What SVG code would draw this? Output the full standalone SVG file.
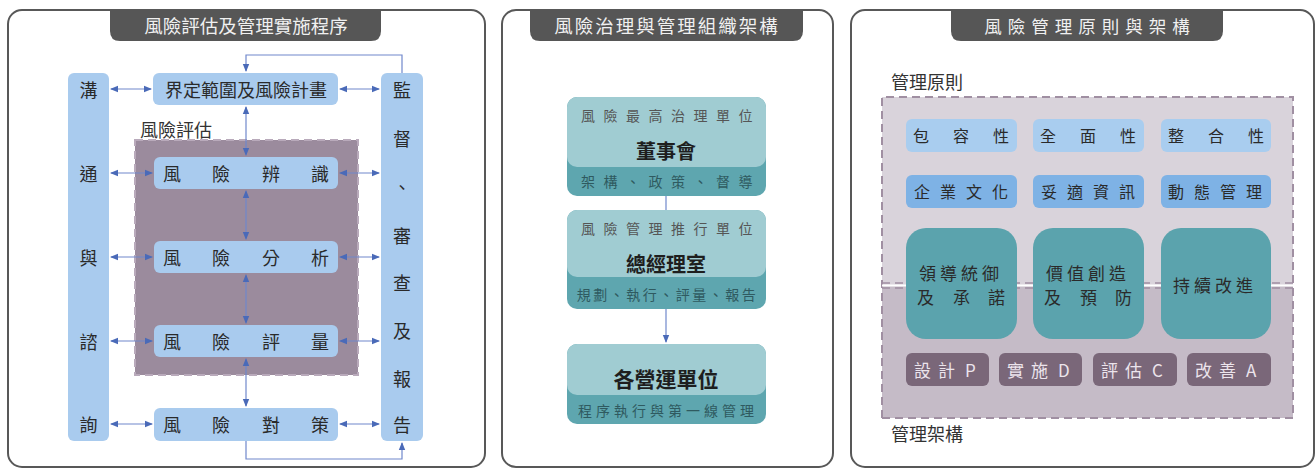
<svg xmlns="http://www.w3.org/2000/svg" width="1316" height="470" viewBox="0 0 1316 470">
<style>
text{font-family:"Noto Sans CJK TC","Noto Sans CJK SC",sans-serif;dominant-baseline:central;}
.frame{fill:#fff;stroke:#585858;stroke-width:2;}
.tab{fill:#565656;}
.title{fill:#f0f0f0;font-size:18.5px;text-anchor:middle;}
.lb{fill:#a9cbee;}
.t1{fill:#2a2a2a;font-size:18px;}
.conn{fill:none;stroke:#7088cc;stroke-width:1.2;}
.tl{fill:#a0ccd2;}
.td{fill:#5ea6af;}
.sub{fill:#555;font-size:14px;}
.subd{fill:#2f5a60;font-size:14px;}
.bold{fill:#1e1e1e;font-size:20px;font-weight:bold;text-anchor:middle;}
.r1{fill:#a9cdef;}
.r2{fill:#7eb2e5;}
.r3{fill:#5ba3ad;}
.r4{fill:#7a6779;}
.t3{fill:#2a2a2a;font-size:16px;}
.t4{fill:#ece4ec;font-size:17px;}
.lab{fill:#333;font-size:18px;}
</style>
<defs>
<marker id="ah" viewBox="0 0 8 8" refX="7" refY="4" markerWidth="8" markerHeight="8" markerUnits="userSpaceOnUse" orient="auto-start-reverse">
<path d="M0 0.8 L8 4 L0 7.2 Z" fill="#4a6ab8"/>
</marker>
</defs>

<!-- Panel 1 -->
<g id="panel1">
<rect class="frame" x="8" y="10" width="477" height="457" rx="14"/>
<path class="tab" d="M110 10 H381 V31 Q381 41 371 41 H120 Q110 41 110 31 Z"/>
<text class="title" x="246" y="25">風險評估及管理實施程序</text>
</g>
<g id="risk-assessment-region">
<rect x="135" y="140" width="223" height="235" fill="#9b8b9d" stroke="#b9aabb" stroke-width="2" stroke-dasharray="8 5"/>
<text class="lab" x="140" y="129">風險評估</text>
</g>
<g id="communication">
<rect class="lb" x="68" y="73" width="41" height="368" rx="6"/>
<text class="t1" x="88.5" y="89" text-anchor="middle">溝</text>
<text class="t1" x="88.5" y="173" text-anchor="middle">通</text>
<text class="t1" x="88.5" y="257" text-anchor="middle">與</text>
<text class="t1" x="88.5" y="341" text-anchor="middle">諮</text>
<text class="t1" x="88.5" y="424" text-anchor="middle">詢</text>
</g>
<g id="monitoring">
<rect class="lb" x="381" y="73" width="42" height="368" rx="6"/>
<text class="t1" x="402" y="89" text-anchor="middle">監</text>
<text class="t1" x="402" y="138" text-anchor="middle">督</text>
<text class="t1" x="402" y="186" text-anchor="middle">、</text>
<text class="t1" x="402" y="235" text-anchor="middle">審</text>
<text class="t1" x="402" y="282" text-anchor="middle">查</text>
<text class="t1" x="402" y="330" text-anchor="middle">及</text>
<text class="t1" x="402" y="378" text-anchor="middle">報</text>
<text class="t1" x="402" y="424" text-anchor="middle">告</text>
</g>
<g id="scope">
<rect class="lb" x="153" y="73" width="185" height="32" rx="6"/>
<text class="t1" x="246" y="89" text-anchor="middle">界定範圍及風險計畫</text>
</g>
<g id="identify">
<rect class="lb" x="154" y="157" width="184" height="32" rx="6"/>
<text class="t1" x="163 212 262 311" y="173">風險辨識</text>
</g>
<g id="analyze">
<rect class="lb" x="154" y="241" width="184" height="32" rx="6"/>
<text class="t1" x="163 212 262 311" y="257">風險分析</text>
</g>
<g id="evaluate">
<rect class="lb" x="154" y="325" width="184" height="32" rx="6"/>
<text class="t1" x="163 212 262 311" y="341">風險評量</text>
</g>
<g id="treatment">
<rect class="lb" x="154" y="408" width="184" height="33" rx="6"/>
<text class="t1" x="163 212 262 311" y="424">風險對策</text>
</g>
<g id="connectors1">
<line class="conn" x1="111" y1="89" x2="151" y2="89" marker-start="url(#ah)" marker-end="url(#ah)"/>
<line class="conn" x1="111" y1="173" x2="152" y2="173" marker-start="url(#ah)" marker-end="url(#ah)"/>
<line class="conn" x1="111" y1="257" x2="152" y2="257" marker-start="url(#ah)" marker-end="url(#ah)"/>
<line class="conn" x1="111" y1="341" x2="152" y2="341" marker-start="url(#ah)" marker-end="url(#ah)"/>
<line class="conn" x1="111" y1="424" x2="152" y2="424" marker-start="url(#ah)" marker-end="url(#ah)"/>
<line class="conn" x1="340" y1="89" x2="379" y2="89" marker-start="url(#ah)" marker-end="url(#ah)"/>
<line class="conn" x1="340" y1="173" x2="379" y2="173" marker-start="url(#ah)" marker-end="url(#ah)"/>
<line class="conn" x1="340" y1="257" x2="379" y2="257" marker-start="url(#ah)" marker-end="url(#ah)"/>
<line class="conn" x1="340" y1="341" x2="379" y2="341" marker-start="url(#ah)" marker-end="url(#ah)"/>
<line class="conn" x1="340" y1="424" x2="379" y2="424" marker-start="url(#ah)" marker-end="url(#ah)"/>
<line class="conn" x1="246" y1="107" x2="246" y2="155" marker-start="url(#ah)" marker-end="url(#ah)"/>
<line class="conn" x1="246" y1="191" x2="246" y2="239" marker-start="url(#ah)" marker-end="url(#ah)"/>
<line class="conn" x1="246" y1="275" x2="246" y2="323" marker-start="url(#ah)" marker-end="url(#ah)"/>
<line class="conn" x1="246" y1="359" x2="246" y2="406" marker-start="url(#ah)" marker-end="url(#ah)"/>
<path class="conn" d="M402 73 V55 H246 V71" marker-end="url(#ah)"/>
<path class="conn" d="M246 441 V459 H402 V443" marker-end="url(#ah)"/>
</g>

<!-- Panel 2 -->
<g id="panel2">
<rect class="frame" x="502" y="10" width="331" height="457" rx="14"/>
<path class="tab" d="M530 10 H803 V31 Q803 41 793 41 H540 Q530 41 530 31 Z"/>
<text class="title" x="667" y="25" letter-spacing="2">風險治理與管理組織架構</text>
</g>
<g id="board">
<rect class="td" x="567" y="97" width="199" height="99" rx="10"/>
<rect class="tl" x="567" y="97" width="199" height="70" rx="10"/>
<text class="sub" x="671" y="115" text-anchor="middle" letter-spacing="8.5">風險最高治理單位</text>
<text class="bold" x="666" y="150">董事會</text>
<text class="subd" x="671" y="181" text-anchor="middle" letter-spacing="8.5">架構、政策、督導</text>
</g>
<g id="gm-office">
<rect class="td" x="567" y="210" width="199" height="99" rx="10"/>
<rect class="tl" x="567" y="210" width="199" height="67" rx="10"/>
<text class="sub" x="671" y="228" text-anchor="middle" letter-spacing="8.5">風險管理推行單位</text>
<text class="bold" x="666" y="263">總經理室</text>
<text class="subd" x="667.5" y="294" text-anchor="middle" letter-spacing="2.5">規劃、執行、評量、報告</text>
</g>
<g id="operating-units">
<rect class="td" x="567" y="344" width="199" height="80" rx="10"/>
<rect class="tl" x="567" y="344" width="199" height="51" rx="10"/>
<text class="bold" x="666" y="378" style="font-size:21px">各營運單位</text>
<text class="subd" x="668" y="410" text-anchor="middle" letter-spacing="4">程序執行與第一線管理</text>
</g>
<g id="connectors2">
<line class="conn" x1="666" y1="196" x2="666" y2="210" stroke="#a8b4dc"/>
<line class="conn" x1="666" y1="309" x2="666" y2="342" marker-end="url(#ah)"/>
</g>

<!-- Panel 3 -->
<g id="panel3">
<rect class="frame" x="851" y="10" width="463" height="457" rx="14"/>
<path class="tab" d="M951 10 H1223 V31 Q1223 41 1213 41 H961 Q951 41 951 31 Z"/>
<text class="title" x="1090" y="25" style="font-size:17.5px" letter-spacing="6">風險管理原則與架構</text>
</g>
<g id="principles-region">
<rect x="882" y="97" width="411" height="188" fill="#d9d3db"/>
<rect x="882" y="285" width="411" height="133" fill="#c5bbc7"/>
<path d="M882 418 V97 H1293 V418" fill="none" stroke="#a08fa2" stroke-width="2" stroke-dasharray="8 5"/>
<line x1="882" y1="418" x2="1293" y2="418" stroke="#a08fa2" stroke-width="2" stroke-dasharray="8 5"/>
<line x1="882" y1="283" x2="1293" y2="283" stroke="#a08fa2" stroke-width="1.5" stroke-dasharray="8 5"/>
<line x1="882" y1="285.5" x2="1293" y2="285.5" stroke="#fff" stroke-width="2"/>
<line x1="882" y1="288" x2="1293" y2="288" stroke="#a08fa2" stroke-width="1.5" stroke-dasharray="8 5"/>
<text class="lab" x="891" y="81">管理原則</text>
<text class="lab" x="891" y="433">管理架構</text>
</g>
<g id="inclusive">
<rect class="r1" x="906" y="119" width="111" height="33" rx="6"/>
<text class="t3" x="913 953 993" y="135">包容性</text>
</g>
<g id="comprehensive">
<rect class="r1" x="1033" y="119" width="111" height="33" rx="6"/>
<text class="t3" x="1040 1080 1120" y="135">全面性</text>
</g>
<g id="integrated">
<rect class="r1" x="1161" y="119" width="110" height="33" rx="6"/>
<text class="t3" x="1168 1208 1248" y="135">整合性</text>
</g>
<g id="culture">
<rect class="r2" x="906" y="175" width="111" height="33" rx="6"/>
<text class="t3" x="914 940 966 992" y="191">企業文化</text>
</g>
<g id="information">
<rect class="r2" x="1033" y="175" width="111" height="33" rx="6"/>
<text class="t3" x="1041 1067 1093 1119" y="191">妥適資訊</text>
</g>
<g id="dynamic">
<rect class="r2" x="1161" y="175" width="110" height="33" rx="6"/>
<text class="t3" x="1168 1194 1220 1246" y="191">動態管理</text>
</g>
<g id="leadership">
<rect class="r3" x="906" y="228" width="111" height="111" rx="20"/>
<text class="t3" x="919 940 961 982" y="272" style="font-size:17px">領導統御</text>
<text class="t3" x="917 953 988" y="296" style="font-size:17px">及承諾</text>
</g>
<g id="value">
<rect class="r3" x="1033" y="228" width="111" height="111" rx="20"/>
<text class="t3" x="1046 1067 1088 1109" y="272" style="font-size:17px">價值創造</text>
<text class="t3" x="1044 1080 1115" y="296" style="font-size:17px">及預防</text>
</g>
<g id="improve">
<rect class="r3" x="1161" y="228" width="110" height="111" rx="20"/>
<text class="t3" x="1173 1194 1215 1236" y="284" style="font-size:17px">持續改進</text>
</g>
<g id="plan">
<rect class="r4" x="906" y="353" width="83" height="33" rx="6"/>
<text class="t4" x="914 938 965" y="369">設計P</text>
</g>
<g id="do">
<rect class="r4" x="999" y="353" width="83" height="33" rx="6"/>
<text class="t4" x="1007 1031 1058" y="369">實施D</text>
</g>
<g id="check">
<rect class="r4" x="1093" y="353" width="84" height="33" rx="6"/>
<text class="t4" x="1101 1125 1152" y="369">評估C</text>
</g>
<g id="act">
<rect class="r4" x="1187" y="353" width="84" height="33" rx="6"/>
<text class="t4" x="1195 1219 1246" y="369">改善A</text>
</g>
</svg>
